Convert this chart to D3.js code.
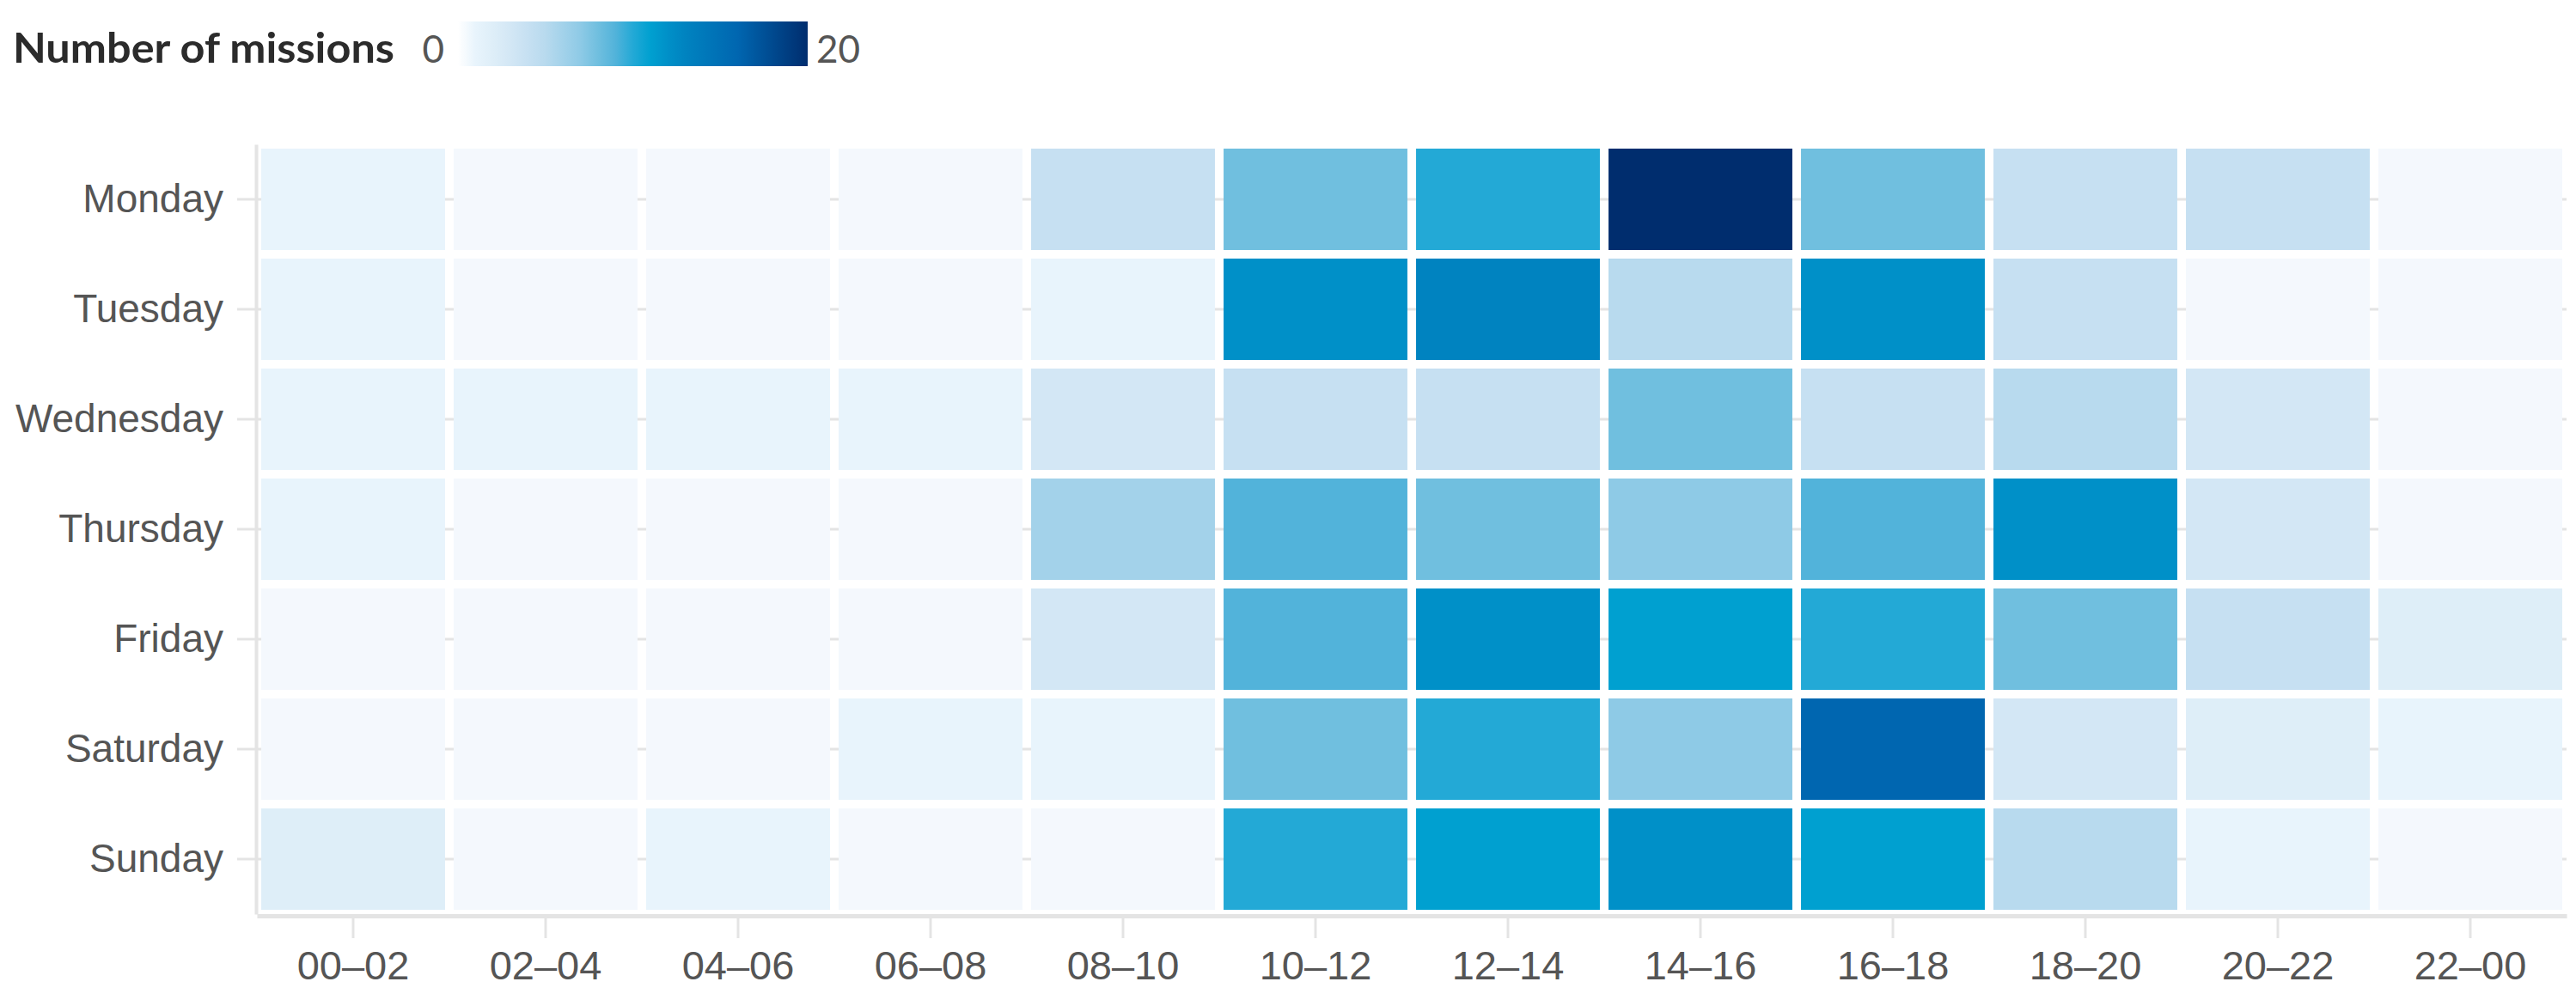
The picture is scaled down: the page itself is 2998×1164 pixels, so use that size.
<!DOCTYPE html>
<html>
<head>
<meta charset="utf-8">
<script src="https://cdn.jsdelivr.net/npm/d3@7"></script>
<style>
  html, body { margin: 0; padding: 0; background: #fff; }
  svg { display: block; font-family: Lato, "Open Sans", sans-serif; }
</style>
</head>
<body>
<svg id="chart" width="2998" height="1164"></svg>
<script>
// rows / columns
const days = ['Monday', 'Tuesday', 'Wednesday', 'Thursday', 'Friday', 'Saturday', 'Sunday'];
const slots = ['00–02', '02–04', '04–06', '06–08', '08–10', '10–12', '12–14', '14–16', '16–18', '18–20', '20–22', '22–00'];

// number of missions per 2h slot
const monday    = [1, 0, 0, 0, 4, 8, 10, 20, 8, 4, 4, 0];
const tuesday   = [1, 0, 0, 0, 1, 12, 13, 5, 12, 4, 0, 0];
const wednesday = [1, 1, 1, 1, 3, 4, 4, 8, 4, 5, 3, 0];
const thursday  = [1, 0, 0, 0, 6, 9, 8, 7, 9, 12, 3, 0];
const friday    = [0, 0, 0, 0, 3, 9, 12, 11, 10, 8, 4, 2];
const saturday  = [0, 0, 0, 1, 1, 8, 10, 7, 16, 3, 2, 1];
const sunday    = [2, 0, 1, 0, 0, 10, 11, 12, 11, 5, 1, 0];

const legendMin = 0, legendMax = 20;

// colour ramp (style)
const rampStops  = [0, 1, 2, 3, 4, 5, 6, 7, 8, 9, 10, 11, 12, 13, 16, 20];
const rampColors = ['#f4f8fd', '#e8f4fc', '#deeef8', '#d3e7f5', '#c6e0f2', '#b8daee', '#a3d2ea', '#8ecae6',
                    '#70bfdf', '#52b3da', '#23a9d6', '#00a0d0', '#0090c8', '#0083c0', '#0066b0', '#002d6e'];

(function() {
  const svg = d3.select('#chart');
  const rows = [monday, tuesday, wednesday, thursday, friday, saturday, sunday];
  const cells = rows.flatMap((vals, i) => vals.map((v, j) => ({ day: days[i], slot: slots[j], value: v })));

  const color = d3.scaleLinear().domain(rampStops).range(rampColors).clamp(true);

  const x = d3.scaleBand().domain(slots).range([299, 2987]).paddingInner(0.045).paddingOuter(0.0225);
  const y = d3.scaleBand().domain(days).range([168, 1064]).paddingInner(0.078).paddingOuter(0.039);

  const axisColor = '#e4e4e4';

  // faint row lines behind the cells
  svg.append('g').selectAll('line')
    .data(days)
    .enter().append('line')
      .attr('x1', 299).attr('x2', 2987)
      .attr('y1', d => y(d) + y.bandwidth() / 2)
      .attr('y2', d => y(d) + y.bandwidth() / 2)
      .attr('stroke', axisColor).attr('stroke-width', 3);

  svg.append('g').selectAll('rect')
    .data(cells)
    .enter().append('rect')
      .attr('x', d => x(d.slot))
      .attr('y', d => y(d.day))
      .attr('width', x.bandwidth())
      .attr('height', y.bandwidth())
      .attr('fill', d => color(d.value));

  // y axis
  const gy = svg.append('g')
    .attr('transform', 'translate(298,0)')
    .call(d3.axisLeft(y).tickSize(22).tickSizeOuter(0).tickPadding(16));
  gy.select('.domain').attr('stroke', axisColor).attr('stroke-width', 4);
  gy.selectAll('.tick line').attr('stroke', axisColor).attr('stroke-width', 3);
  gy.selectAll('.tick text').attr('font-size', 46).attr('fill', '#555');

  // x axis
  const gx = svg.append('g')
    .attr('transform', 'translate(0,1066)')
    .call(d3.axisBottom(x).tickSize(26).tickSizeOuter(0));
  gx.select('.domain').attr('stroke', axisColor).attr('stroke-width', 5);
  gx.selectAll('.tick line').attr('stroke', axisColor).attr('stroke-width', 3);
  gx.selectAll('.tick text').attr('font-size', 47).attr('fill', '#555')
    .attr('y', 74).attr('dy', 0);

  // legend
  const legend = svg.append('g');
  legend.append('text')
    .attr('x', 15).attr('y', 73)
    .attr('font-size', 47).attr('font-weight', 'bold').attr('fill', '#2b2b2b')
    .attr('textLength', 444).attr('lengthAdjust', 'spacingAndGlyphs')
    .text('Number of missions');

  const defs = svg.append('defs');
  const grad = defs.append('linearGradient').attr('id', 'legend-grad');
  grad.selectAll('stop')
    .data(rampStops)
    .enter().append('stop')
      .attr('offset', d => (d - legendMin) / (legendMax - legendMin))
      .attr('stop-color', (d, i) => i === 0 ? '#ffffff' : rampColors[i]);

  const lx = d3.scaleLinear().domain([legendMin, legendMax]).range([533, 940]);
  legend.append('rect')
    .attr('x', lx(legendMin)).attr('y', 25)
    .attr('width', lx(legendMax) - lx(legendMin)).attr('height', 52)
    .attr('fill', 'url(#legend-grad)');

  legend.append('text')
    .attr('x', lx(legendMin) - 16).attr('y', 73)
    .attr('text-anchor', 'end')
    .attr('font-size', 44).attr('fill', '#555')
    .text(legendMin);
  legend.append('text')
    .attr('x', lx(legendMax) + 10).attr('y', 73)
    .attr('font-size', 44).attr('fill', '#555')
    .text(legendMax);
})();
</script>
</body>
</html>
